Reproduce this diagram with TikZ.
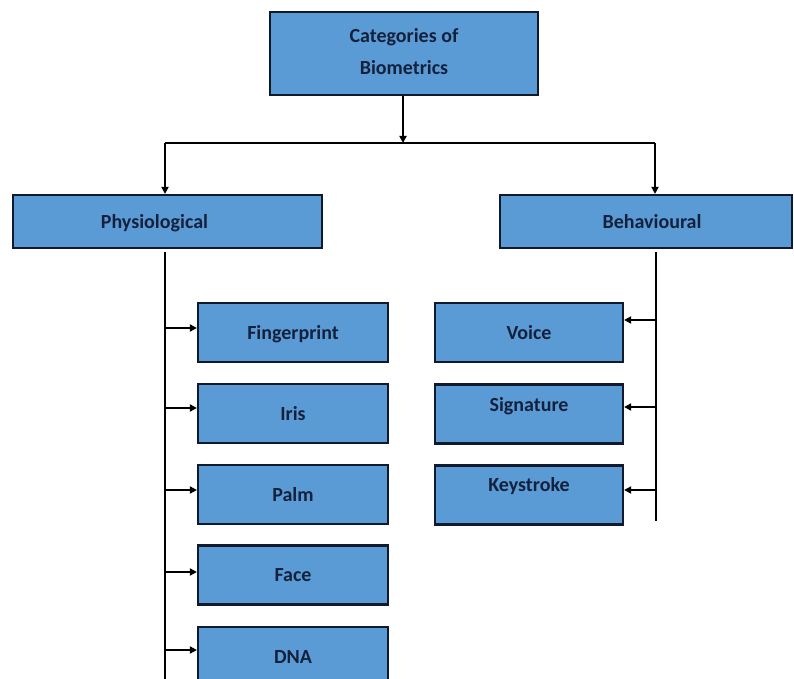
\documentclass[tikz,border=0pt]{standalone}
\usepackage{fontspec}
\setmainfont{Carlito}
\usetikzlibrary{arrows.meta}
\definecolor{boxfill}{HTML}{5B9BD5}
\definecolor{boxline}{HTML}{111A2C}
\definecolor{boxtext}{HTML}{14213D}
\tikzset{
  bx/.style={draw=boxline, line width=2.2pt, fill=boxfill, text=boxtext,
    font=\fontsize{20}{32}\selectfont\bfseries, inner sep=0pt,
    text height=13pt, text depth=0pt},
  conn/.style={line width=2.5pt, draw=black},
  arr/.style={conn, -{Triangle[length=7pt,width=7pt]}},
}
\begin{document}
\begin{tikzpicture}[x=1pt,y=-1pt]
\useasboundingbox (0,0) rectangle (794,679);
\node[bx, minimum width=268pt, minimum height=83pt, align=center, text height=43pt, text depth=0pt] (top) at (404,53.5) {Categories of\\Biometrics};
\node[bx, minimum width=309pt, minimum height=53pt] (phys) at (167.5,221.5) {\hspace*{-26pt}Physiological};
\node[bx, minimum width=292pt, minimum height=53pt] (beh) at (646,221.5) {\hspace*{12pt}Behavioural};

\node[bx, minimum width=190pt, minimum height=59pt] (fp) at (293,332.5) {Fingerprint};
\node[bx, minimum width=190pt, minimum height=59pt] (iris) at (293,413.5) {Iris};
\node[bx, minimum width=190pt, minimum height=59pt] (palm) at (293,494.5) {Palm};
\node[bx, minimum width=190pt, minimum height=59pt] (face) at (293,575) {Face};
\node[bx, minimum width=190pt, minimum height=59pt] (dna) at (293,656.5) {DNA};

\node[bx, minimum width=188pt, minimum height=59pt] (voice) at (529,332.5) {Voice};
\node[bx, minimum width=188pt, minimum height=59pt, text depth=18pt] (sig) at (529,414) {Signature};
\node[bx, minimum width=188pt, minimum height=59pt, text depth=20pt] (key) at (529,495) {Keystroke};

% top connectors
\coordinate (hj) at (403,143);
\coordinate (hl) at (165,143);
\coordinate (hr) at (655,143);
\draw[arr] (top.south -| hj) -- (hj);
\draw[conn] (hl) -- (hr);
\draw[arr] (hl) -- (hl |- phys.north);
\draw[arr] (hr) -- (hr |- beh.north);

% left spine
\coordinate (ls) at (165,252);
\coordinate (le) at (165,679);
\draw[conn] (ls) -- (le);
\draw[arr] (165,328) -- (fp.west |- 0,328);
\draw[arr] (165,408) -- (iris.west |- 0,408);
\draw[arr] (165,490) -- (palm.west |- 0,490);
\draw[arr] (165,572) -- (face.west |- 0,572);
\draw[arr] (165,650) -- (dna.west |- 0,650);

% right spine
\coordinate (rs) at (656,252);
\coordinate (re) at (656,521);
\draw[conn] (rs) -- (re);
\draw[arr] (656,320) -- (voice.east |- 0,320);
\draw[arr] (656,407) -- (sig.east |- 0,407);
\draw[arr] (656,490) -- (key.east |- 0,490);
\end{tikzpicture}
\end{document}
